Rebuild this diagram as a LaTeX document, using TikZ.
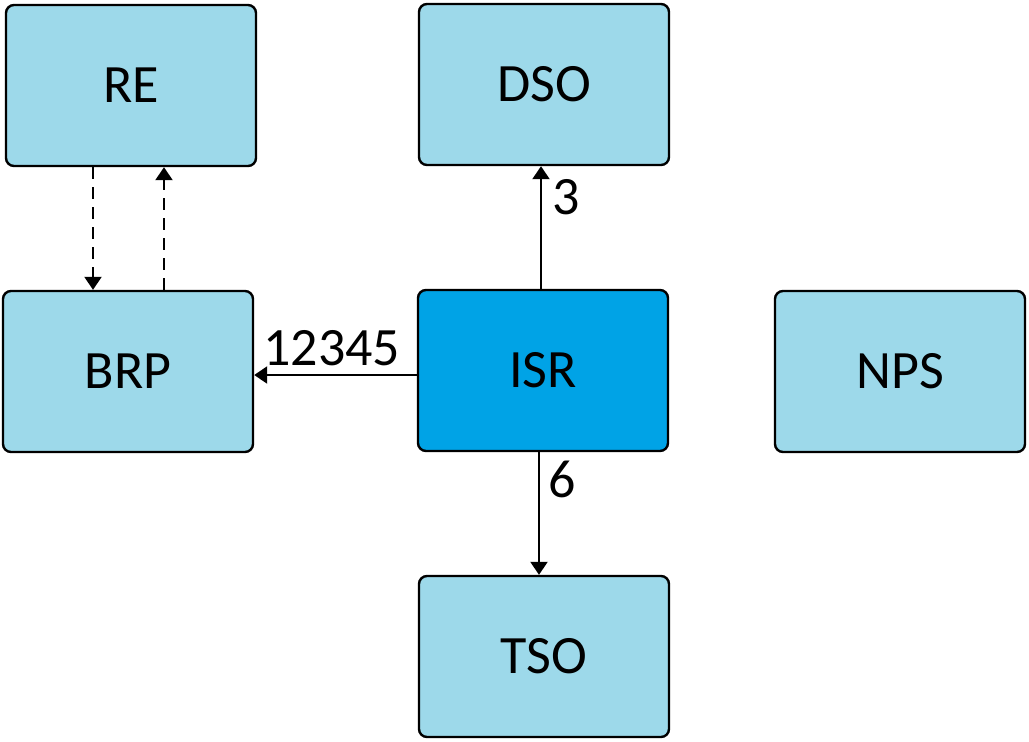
\documentclass[tikz,border=0pt]{standalone}
\usepackage{fontspec}
\setmainfont{Carlito}
\usetikzlibrary{arrows.meta}
\definecolor{boxblue}{HTML}{9DD9EA}
\definecolor{isrblue}{HTML}{00A3E6}
\tikzset{
  actor/.style = {draw, line width = 1.2pt, rounded corners = 4pt, fill = boxblue,
    minimum width = 125pt, minimum height = 80.5pt, inner sep = 0pt,
    font = \fontsize{27}{32}\selectfont},
  flow/.style = {line width = 1.1pt, -{Triangle[length = 6.5pt, width = 8.5pt]}},
  lbl/.style = {font = \fontsize{27}{32}\selectfont, inner sep = 1pt}
}
\begin{document}
\begin{tikzpicture}[x = 0.5pt, y = -0.5pt]
    \useasboundingbox (0, 0) rectangle (1029, 741);
    \node [actor] (RE) at (131, 85.5) {RE};
    \node [actor] (DSO) at (544, 84.5) {DSO};
    \node [actor] (BRP) at (128, 371.5) {BRP};
    \node [actor, fill = isrblue] (ISR) at (543, 370.5) {ISR};
    \node [actor] (NPS) at (900, 371.5) {NPS};
    \node [actor] (TSO) at (544, 656.5) {TSO};
    \draw [flow] (ISR.west |- 0, 375) -- (BRP.east |- 0, 375)
      node [lbl, pos = 1, anchor = south west, xshift = 3pt, yshift = 3pt] {12345};
    \draw [flow] (ISR.north -| 541, 0) -- (DSO.south -| 541, 0)
      node [lbl, pos = 1, anchor = north west, xshift = 4pt, yshift = -5pt] {3};
    \draw [flow] (ISR.south -| 539, 0) -- (TSO.north -| 539, 0)
      node [lbl, pos = 0, anchor = north west, xshift = 3pt, yshift = -3pt] {6};
    \draw [flow, dashed, dash pattern = on 6pt off 4pt] (RE.south -| 93, 0) -- (BRP.north -| 93, 0);
    \draw [flow, dashed, dash pattern = on 6pt off 4pt] (BRP.north -| 164, 0) -- (RE.south -| 164, 0);
  \end{tikzpicture}
\end{document}
